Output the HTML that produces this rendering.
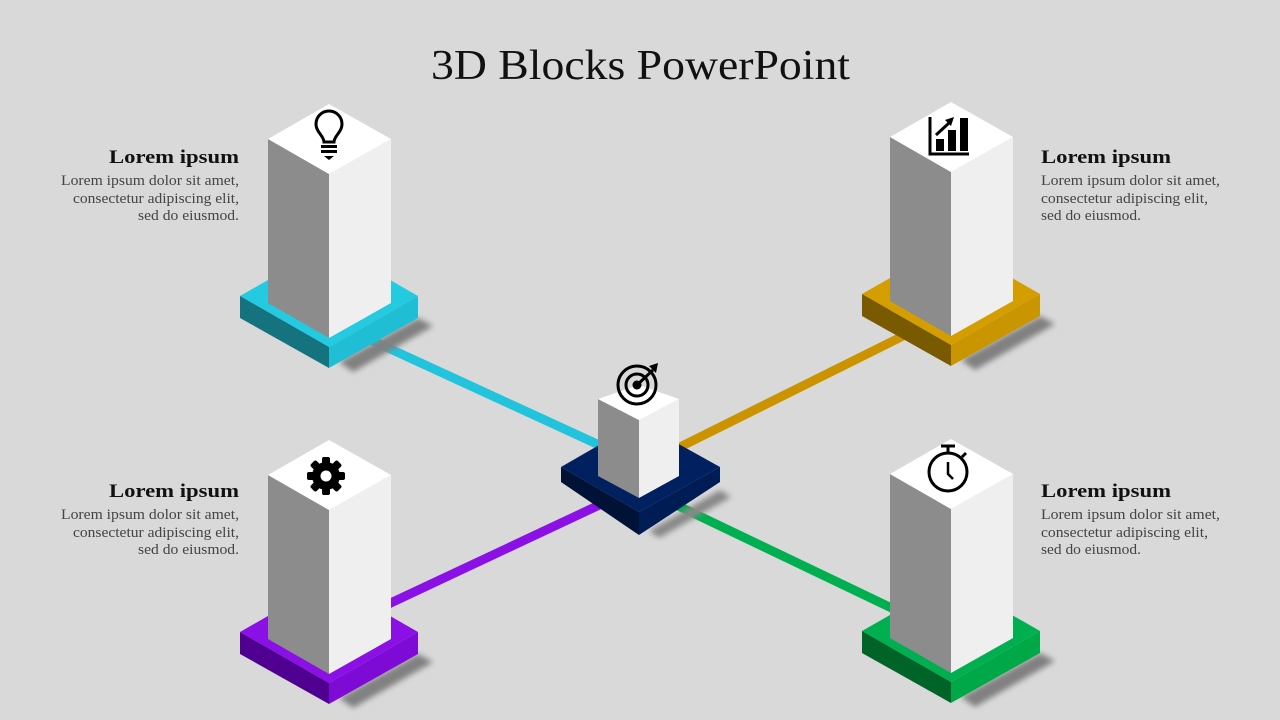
<!DOCTYPE html>
<html><head><meta charset="utf-8"><style>
html,body{margin:0;padding:0;background:#d9d9d9;}
svg{display:block;}
</style></head><body>
<svg width="1280" height="720" viewBox="0 0 1280 720" xmlns="http://www.w3.org/2000/svg">
<defs>
<filter id="bl" x="-50%" y="-50%" width="200%" height="200%"><feGaussianBlur stdDeviation="3"/></filter>
<g id="pillar">
  <polygon points="10,258 89,214 104,222 24,268" fill="#808080" filter="url(#bl)"/>
</g>
<g id="pl">
  <polygon points="-61,35 0,70 0,234 -61,199" fill="#8c8c8c"/>
  <polygon points="0,70 62,35 62,199 0,234" fill="#efefef"/>
  <polygon points="0,0 -61,35 0,70 62,35" fill="#ffffff"/>
</g>
</defs>
<rect width="1280" height="720" fill="#d9d9d9"/>
<g stroke-width="9" stroke-linecap="butt">
<line x1="360" y1="335" x2="610" y2="450" stroke="#22c3dc"/>
<line x1="905" y1="335" x2="670" y2="452" stroke="#cc9300"/>
<line x1="380" y1="608" x2="610" y2="500" stroke="#8a10e6"/>
<line x1="670" y1="502" x2="900" y2="612" stroke="#00b050"/>
</g>
<text x="431" y="79" textLength="419" lengthAdjust="spacingAndGlyphs" font-family="Liberation Serif, serif" font-size="42" fill="#111">3D Blocks PowerPoint</text>

<g transform="translate(329,104)">
<use href="#pillar"/>
<polygon points="-89,192 0,141 89,192 0,243" fill="#23cae0"/>
<polygon points="-89,192 0,243 0,264 -89,214" fill="#14737e"/>
<polygon points="0,243 89,192 89,214 0,264" fill="#20bed5"/>
<use href="#pl"/>
<g fill="none" stroke="#000" stroke-width="3"><path d="M-5,38 C-5,32 -13,28 -13,20 A13,13 0 1 1 13,20 C13,28 5,32 5,38 Z"/></g>
<rect x="-8" y="41" width="16" height="3" fill="#000"/><rect x="-8" y="46" width="16" height="3" fill="#000"/><path d="M-5,52 h10 l-5,4z" fill="#000"/>
</g>
<g transform="translate(951,102)">
<use href="#pillar"/>
<polygon points="-89,192 0,141 89,192 0,243" fill="#d59e00"/>
<polygon points="-89,192 0,243 0,264 -89,214" fill="#7a5a00"/>
<polygon points="0,243 89,192 89,214 0,264" fill="#c99500"/>
<use href="#pl"/>
<path d="M-21,15 V52 H18" fill="none" stroke="#000" stroke-width="3"/>
<rect x="-15" y="37" width="8" height="12" fill="#000"/><rect x="-3" y="28" width="8" height="21" fill="#000"/><rect x="9" y="16" width="8" height="33" fill="#000"/>
<path d="M-15,33 L-2,21" stroke="#000" stroke-width="3"/><path d="M-6,18 L3,15 L0,24Z" fill="#000"/>
</g>
<g transform="translate(329,440)">
<use href="#pillar"/>
<polygon points="-89,192 0,141 89,192 0,243" fill="#8a10e6"/>
<polygon points="-89,192 0,243 0,264 -89,214" fill="#4f0090"/>
<polygon points="0,243 89,192 89,214 0,264" fill="#7e0ad6"/>
<use href="#pl"/>
<g transform="translate(-3,36)">
<circle r="14" fill="#000"/>
<g fill="#000"><rect x="-4" y="-19" width="8" height="38" rx="2"/><rect x="-4" y="-19" width="8" height="38" rx="2" transform="rotate(45)"/><rect x="-4" y="-19" width="8" height="38" rx="2" transform="rotate(90)"/><rect x="-4" y="-19" width="8" height="38" rx="2" transform="rotate(135)"/></g>
<circle r="5.5" fill="#fff"/></g>
</g>
<g transform="translate(951,439)">
<use href="#pillar"/>
<polygon points="-89,192 0,141 89,192 0,243" fill="#00b050"/>
<polygon points="-89,192 0,243 0,264 -89,214" fill="#006428"/>
<polygon points="0,243 89,192 89,214 0,264" fill="#00a848"/>
<use href="#pl"/>
<g transform="translate(-3,33)" fill="none" stroke="#000" stroke-width="3">
<circle r="19"/><line x1="0" y1="-19" x2="0" y2="-25"/><line x1="-7" y1="-26" x2="7" y2="-26"/><line x1="14" y1="-15" x2="18" y2="-19"/>
<path d="M0,-10 V2 L5,7" stroke-width="2.5"/></g>
</g>
<g transform="translate(639,385)">
<polygon points="10,146 81,105 92,112 20,153" fill="#888" filter="url(#bl)"/>
<polygon points="-78,82 0,37 81,82 0,127" fill="#002060"/>
<polygon points="-78,82 0,127 0,150 -78,97" fill="#001236"/>
<polygon points="0,127 81,82 81,97 0,150" fill="#001c55"/>
<polygon points="-41,14 0,35 0,113 -41,91" fill="#8c8c8c"/>
<polygon points="0,35 40,14 40,91 0,113" fill="#efefef"/>
<polygon points="0,0 -41,14 0,35 40,14" fill="#ffffff"/>
<g transform="translate(-2,0)" fill="none" stroke="#000" stroke-width="3"><circle r="19"/><circle r="11"/></g>
<circle cx="-2" cy="0" r="4.5" fill="#000"/>
<path d="M-2,0 L14,-15" stroke="#000" stroke-width="3"/><path d="M10,-19 L19,-22 L17,-12 Z" fill="#000"/>
</g>

<g font-family="Liberation Serif, serif" lengthAdjust="spacingAndGlyphs">
<g text-anchor="end">
<text x="239" y="163" font-size="19" font-weight="bold" fill="#111" textLength="130" lengthAdjust="spacingAndGlyphs">Lorem ipsum</text>
<text x="239" y="185" font-size="15" fill="#444" textLength="178" lengthAdjust="spacingAndGlyphs">Lorem ipsum dolor sit amet,</text>
<text x="239" y="203" font-size="15" fill="#444" textLength="166" lengthAdjust="spacingAndGlyphs">consectetur adipiscing elit,</text>
<text x="239" y="220" font-size="15" fill="#444" textLength="101" lengthAdjust="spacingAndGlyphs">sed do eiusmod.</text>
<text x="239" y="497" font-size="19" font-weight="bold" fill="#111" textLength="130" lengthAdjust="spacingAndGlyphs">Lorem ipsum</text>
<text x="239" y="519" font-size="15" fill="#444" textLength="178" lengthAdjust="spacingAndGlyphs">Lorem ipsum dolor sit amet,</text>
<text x="239" y="537" font-size="15" fill="#444" textLength="166" lengthAdjust="spacingAndGlyphs">consectetur adipiscing elit,</text>
<text x="239" y="554" font-size="15" fill="#444" textLength="101" lengthAdjust="spacingAndGlyphs">sed do eiusmod.</text>
</g>
<g>
<text x="1041" y="163" font-size="19" font-weight="bold" fill="#111" textLength="130" lengthAdjust="spacingAndGlyphs">Lorem ipsum</text>
<text x="1041" y="185" font-size="15" fill="#444" textLength="179" lengthAdjust="spacingAndGlyphs">Lorem ipsum dolor sit amet,</text>
<text x="1041" y="203" font-size="15" fill="#444" textLength="167" lengthAdjust="spacingAndGlyphs">consectetur adipiscing elit,</text>
<text x="1041" y="220" font-size="15" fill="#444" textLength="100" lengthAdjust="spacingAndGlyphs">sed do eiusmod.</text>
<text x="1041" y="497" font-size="19" font-weight="bold" fill="#111" textLength="130" lengthAdjust="spacingAndGlyphs">Lorem ipsum</text>
<text x="1041" y="519" font-size="15" fill="#444" textLength="179" lengthAdjust="spacingAndGlyphs">Lorem ipsum dolor sit amet,</text>
<text x="1041" y="537" font-size="15" fill="#444" textLength="167" lengthAdjust="spacingAndGlyphs">consectetur adipiscing elit,</text>
<text x="1041" y="554" font-size="15" fill="#444" textLength="100" lengthAdjust="spacingAndGlyphs">sed do eiusmod.</text>
</g>
</g>
</svg>
</body></html>
